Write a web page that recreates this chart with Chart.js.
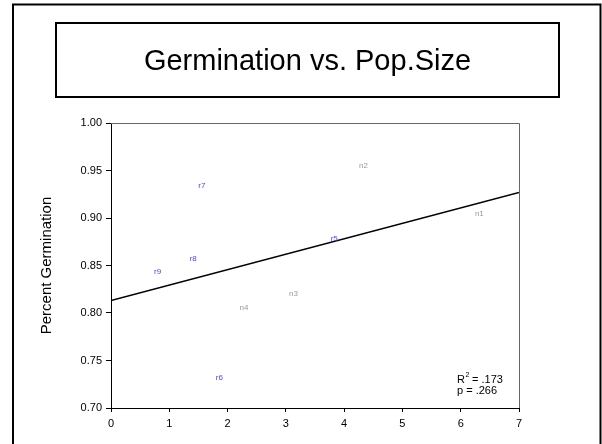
<!DOCTYPE html>
<html lang="en">
<head>
  <meta charset="UTF-8">
  <title>Germination vs. Pop.Size</title>
  <script src="https://cdn.jsdelivr.net/npm/chart.js"></script>
  <style>
    body {
      margin: 0;
      background: #ffffff;
    }
    #wrap {
      position: relative;
      width: 602px;
      height: 444px;
    }
  </style>
</head>
<body>
  <div id="wrap">
    <canvas id="germChart" width="602" height="444"></canvas>
  </div>

  <script>
    // populations and their values
    const popLabels = ['n1', 'n2', 'n3', 'n4', 'r5', 'r6', 'r7', 'r8', 'r9'];
    const popSize = [6.32, 4.33, 3.13, 2.28, 3.83, 1.86, 1.56, 1.41, 0.80];
    const germination = [0.904, 0.955, 0.820, 0.806, 0.878, 0.732, 0.934, 0.857, 0.843];

    // regression line end points
    const fitX = [0, 7];
    const fitY = [0.813, 0.927];

    const xTicks = [0, 1, 2, 3, 4, 5, 6, 7];
    const yTicks = [0.70, 0.75, 0.80, 0.85, 0.90, 0.95, 1.00];
    const statLines = ['.173', '.266'];

    const FONT = 'Arial, "Liberation Sans", sans-serif';

    // frame, title box, point labels and stats text
    const decor = {
      id: 'decor',
      beforeDraw(chart) {
        const ctx = chart.ctx;
        ctx.save();
        ctx.fillStyle = '#fff';
        ctx.fillRect(0, 0, chart.width, chart.height);
        ctx.restore();
      },
      afterDraw(chart) {
        const ctx = chart.ctx;
        const a = chart.chartArea;
        const xs = chart.scales.x, ys = chart.scales.y;
        ctx.save();

        // outer frame (bottom runs off the picture)
        ctx.strokeStyle = '#000';
        ctx.lineWidth = 2;
        ctx.beginPath();
        ctx.moveTo(13, 450);
        ctx.lineTo(13, 4.5);
        ctx.lineTo(600.5, 4.5);
        ctx.lineTo(600.5, 450);
        ctx.stroke();

        // title box
        ctx.strokeRect(56, 23, 503, 74);
        ctx.fillStyle = '#000';
        ctx.font = '29px ' + FONT;
        ctx.textAlign = 'center';
        ctx.textBaseline = 'alphabetic';
        ctx.fillText('Germination vs. Pop.Size', 307.5, 70);

        // top and right plot border
        ctx.strokeStyle = '#666';
        ctx.lineWidth = 1;
        ctx.beginPath();
        ctx.moveTo(a.left, a.top + 0.5);
        ctx.lineTo(a.right + 0.5, a.top + 0.5);
        ctx.lineTo(a.right + 0.5, a.bottom);
        ctx.stroke();

        // y axis title
        ctx.save();
        ctx.translate(47, (a.top + a.bottom) / 2);
        ctx.rotate(-Math.PI / 2);
        ctx.font = '15px ' + FONT;
        ctx.textAlign = 'center';
        ctx.textBaseline = 'middle';
        ctx.fillStyle = '#000';
        ctx.fillText('Percent Germination', 0, 0);
        ctx.restore();

        // point labels
        ctx.font = '8px ' + FONT;
        ctx.textAlign = 'center';
        ctx.textBaseline = 'middle';
        popLabels.forEach((lab, i) => {
          ctx.fillStyle = lab[0] === 'r' ? '#4646ff' : '#9a9a9a';
          ctx.fillText(lab, xs.getPixelForValue(popSize[i]), ys.getPixelForValue(germination[i]));
        });

        // stats
        ctx.fillStyle = '#000';
        ctx.textAlign = 'left';
        ctx.textBaseline = 'alphabetic';
        ctx.font = '11px ' + FONT;
        const sx = 457;
        ctx.fillText('R', sx, 383);
        const rw = ctx.measureText('R').width;
        ctx.font = '7px ' + FONT;
        ctx.fillText('2', sx + rw + 0.5, 377);
        ctx.font = '11px ' + FONT;
        ctx.fillText(' = ' + statLines[0], sx + rw + 4, 383);
        ctx.fillText('p = ' + statLines[1], sx, 394);

        ctx.restore();
      }
    };

    new Chart(document.getElementById('germChart'), {
      type: 'scatter',
      data: {
        datasets: [
          {
            label: 'Populations',
            data: popSize.map((x, i) => ({ x: x, y: germination[i] })),
            pointRadius: 0,
            showLine: false
          },
          {
            label: 'Fit',
            data: fitX.map((x, i) => ({ x: x, y: fitY[i] })),
            showLine: true,
            borderColor: '#000',
            borderWidth: 1.5,
            pointRadius: 0,
            fill: false
          }
        ]
      },
      options: {
        responsive: false,
        animation: false,
        events: [],
        layout: {
          padding: { left: 0, top: 123, right: 83, bottom: 0 }
        },
        plugins: {
          legend: { display: false },
          title: { display: false },
          tooltip: { enabled: false }
        },
        scales: {
          x: {
            type: 'linear',
            min: 0,
            max: 7,
            afterFit(scale) { scale.height = 36; },
            afterBuildTicks(scale) { scale.ticks = xTicks.map(v => ({ value: v })); },
            grid: {
              display: true,
              drawOnChartArea: false,
              drawTicks: true,
              tickLength: 4,
              color: '#000'
            },
            border: { display: true, color: '#000', width: 1 },
            ticks: {
              color: '#000',
              padding: 5,
              maxRotation: 0,
              font: { family: FONT, size: 11 },
              callback: v => String(v)
            }
          },
          y: {
            type: 'linear',
            min: 0.70,
            max: 1.00,
            afterFit(scale) { scale.width = 111; },
            afterBuildTicks(scale) { scale.ticks = yTicks.map(v => ({ value: v })); },
            grid: {
              display: true,
              drawOnChartArea: false,
              drawTicks: true,
              tickLength: 5,
              color: '#000'
            },
            border: { display: true, color: '#000', width: 1 },
            ticks: {
              color: '#000',
              padding: 4,
              font: { family: FONT, size: 11 },
              callback: v => Number(v).toFixed(2)
            }
          }
        }
      },
      plugins: [decor]
    });
  </script>
</body>
</html>
